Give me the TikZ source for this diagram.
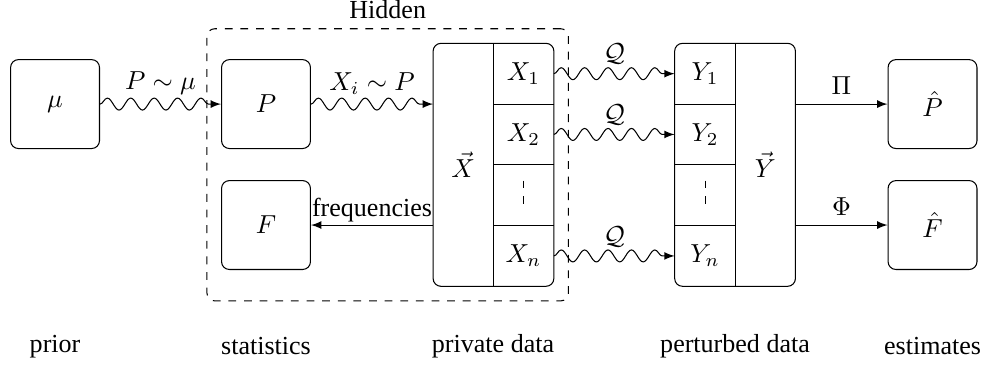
\documentclass[tikz,border=0pt]{standalone}
\usepackage[no-math]{fontspec}
\setmainfont{Liberation Serif}
\usepackage{amssymb}
\usetikzlibrary{positioning,fit,calc,arrows,decorations.pathmorphing}
\tikzset{box/.style={draw, rounded corners=3pt, minimum width=1.2cm, minimum height=1.2cm}}
\tikzset{cell/.style={minimum width=0.82cm, minimum height=0.82cm, inner sep=0pt, outer sep=0pt}}
\tikzset{vcol/.style={minimum width=0.81cm, minimum height=3.28cm, inner sep=0pt, outer sep=0pt}}
\tikzset{hidden/.style={draw, dashed, rounded corners=3pt, inner sep=0.19cm}}
\tikzset{arr/.style={draw, ->, >=latex}}
\tikzset{wavy/.style={draw, ->, >=latex, decorate, decoration={snake, amplitude=2.3pt, segment length=9pt, post length=2pt}}}

\begin{document}
\begin{tikzpicture}
                \useasboundingbox (0,0) rectangle (13.284,4.955);
                \node[box] (mu) at (0.743,3.55) {$\mu$};
                \node[box] (p) at (3.591,3.55) {$P$};
                \node[box] (f) at (3.591,1.917) {$F$};
                %
                \node[cell] (x1) at (7.067,3.96) {$X_1$};
                \node[cell, below=0pt of x1] (x2) {$X_2$};
                \node[cell, below=0pt of x2] (xd) {};
                \node[cell, below=0pt of xd] (xn) {$X_n$};
                \node[vcol, anchor=north east] (xvec) at (x1.north west) {$\vec{X}$};
                \node[box, fit=(xvec)(x1)(xn), inner sep=0pt] (xbox) {};
                \draw (x1.north west) -- (xn.south west);
                \draw (x1.south west) -- (x1.south east);
                \draw (x2.south west) -- (x2.south east);
                \draw (xd.south west) -- (xd.south east);
                \draw[dashed] ([yshift=0.196cm]xd.center) -- ([yshift=-0.128cm]xd.center);
                %
                \node[cell] (y1) at (9.518,3.96) {$Y_1$};
                \node[cell, below=0pt of y1] (y2) {$Y_2$};
                \node[cell, below=0pt of y2] (yd) {};
                \node[cell, below=0pt of yd] (yn) {$Y_n$};
                \node[vcol, anchor=north west] (yvec) at (y1.north east) {$\vec{Y}$};
                \node[box, fit=(yvec)(y1)(yn), inner sep=0pt] (ybox) {};
                \draw (y1.north east) -- (yn.south east);
                \draw (y1.south west) -- (y1.south east);
                \draw (y2.south west) -- (y2.south east);
                \draw (yd.south west) -- (yd.south east);
                \draw[dashed] ([yshift=0.196cm]yd.center) -- ([yshift=-0.128cm]yd.center);
                %
                \node[box] (phat) at (12.589,3.55) {$\hat{P}$};
                \node[box] (fhat) at (12.589,1.917) {$\hat{F}$};
                %
                \node[hidden, fit=(p)(f)(xbox)] (hid) {};
                \node[above] at (hid.north) {Hidden};
                %
                \draw[wavy] (mu) to
                    node[above]{$P \sim \mu$}
                    (p);
                \draw[wavy] (p) to
                    node[above]{$X_i \sim P$}
                    (xvec.west |- p);
                \draw[wavy] (x1) to
                    node[above]{$\mathcal{Q}$}
                    (y1);
                \draw[wavy] (x2) to
                    node[above]{$\mathcal{Q}$}
                    (y2);
                \draw[wavy] (xn) to
                    node[above]{$\mathcal{Q}$}
                    (yn);
                \draw[arr] (xvec.west |- f) to
                    node[above, inner sep=1pt]{frequencies}
                    (f);
                \draw[arr] (yvec.east |- phat) to
                    node[above]{$\Pi$}
                    (phat);
                \draw[arr] (yvec.east |- fhat) to
                    node[above]{$\Phi$}
                    (fhat);
                %
                \node (lprior) at (0.743,0.28) {prior};
                \node (lstat) at (3.591,0.28) {statistics};
                \node (lpriv) at (6.656,0.28) {private data};
                \node (lpert) at (9.923,0.28) {perturbed data};
                \node (lest) at (12.589,0.28) {estimates};
            \end{tikzpicture}
\end{document}
